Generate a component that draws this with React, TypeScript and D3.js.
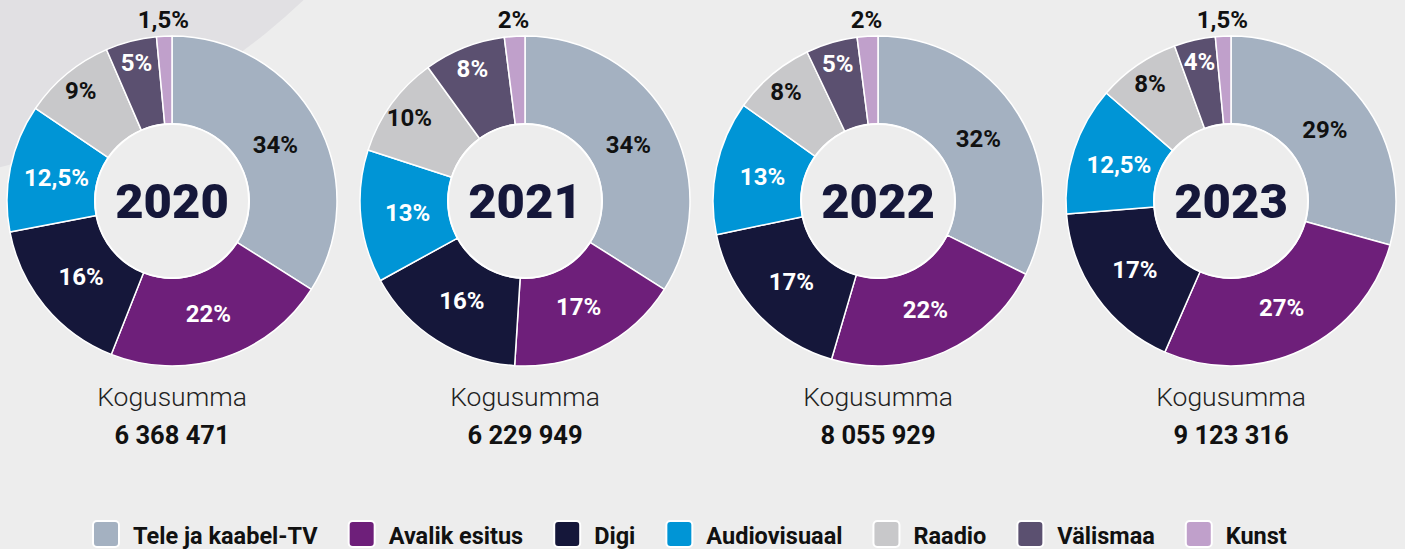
import React, { useEffect, useRef } from "react";
import * as d3 from "d3";

const categories = ["Tele ja kaabel-TV", "Avalik esitus", "Digi", "Audiovisuaal", "Raadio", "Välismaa", "Kunst"];
const colors = ["#a4b1c1", "#6e1f7a", "#15173a", "#0095d6", "#c8c8ca", "#5b5070", "#c0a0cb"];
const labelDark = [true, false, false, false, true, false, true];
const years = ["2020", "2021", "2022", "2023"];
const values2020 = [34, 22, 16, 12.5, 9, 5, 1.5];
const values2021 = [34, 17, 16, 13, 10, 8, 2];
const values2022 = [32, 22, 17, 13, 8, 5, 2];
const values2023 = [29, 27, 17, 12.5, 8, 4, 1.5];
const totals = ["6 368 471", "6 229 949", "8 055 929", "9 123 316"];
const totalLabel = "Kogusumma";

const W = 1405;
const H = 549;

export default function App() {
  const ref = useRef<SVGSVGElement>(null);
  useEffect(() => {
    const svg = d3.select(ref.current);
    svg.selectAll("*").remove();
    const font = "Roboto, 'Noto Sans', sans-serif";
    svg.append("rect").attr("width", W).attr("height", H).attr("fill", "#ededed");
    svg.append("circle").attr("cx", -172).attr("cy", -504).attr("r", 693).attr("fill", "#e1e0e3");

    const allValues = [values2020, values2021, values2022, values2023];
    const x = d3.scalePoint<string>().domain(years).range([172, 1231]);
    const cy = 201;
    const rOuter = 165;
    const rInner = 77;
    const pie = d3.pie<number>().sort(null).value((d) => d);
    const arc = d3.arc<d3.PieArcDatum<number>>().innerRadius(rInner).outerRadius(rOuter);
    const fmt = (v: number) => String(v).replace(".", ",") + "%";

    years.forEach((yr, yi) => {
      const cx = x(yr)!;
      const g = svg.append("g").attr("transform", `translate(${cx},${cy})`);
      const arcs = pie(allValues[yi]);
      g.selectAll("path.seg")
        .data(arcs)
        .join("path")
        .attr("class", "seg")
        .attr("d", arc as any)
        .attr("fill", (_d, i) => colors[i])
        .attr("stroke", "#ffffff")
        .attr("stroke-width", 1.5)
        .attr("stroke-linejoin", "round");
      g.append("circle").attr("r", rInner).attr("fill", "#ededed").attr("stroke", "#ffffff").attr("stroke-width", 2);
      g.selectAll("text.lab")
        .data(arcs)
        .join("text")
        .attr("class", "lab")
        .attr("transform", (d) => {
          const a = (d.startAngle + d.endAngle) / 2;
          const r = d.data < 3 ? 182 : d.data <= 10 ? 143 : 118;
          return `translate(${r * Math.sin(a)},${-r * Math.cos(a)})`;
        })
        .attr("text-anchor", "middle")
        .attr("dy", "0.36em")
        .attr("font-family", font)
        .attr("font-weight", 700)
        .attr("font-size", 24)
        .attr("fill", (d, i) => (labelDark[i] ? "#111111" : "#ffffff"))
        .text((d) => fmt(d.data));
      g.append("text")
        .attr("text-anchor", "middle")
        .attr("y", 17)
        .attr("font-family", font)
        .attr("font-weight", 900)
        .attr("font-size", 49)
        .attr("fill", "#15173a")
        .text(yr);
      svg.append("text")
        .attr("x", cx)
        .attr("y", 406)
        .attr("text-anchor", "middle")
        .attr("font-family", font)
        .attr("font-weight", 300)
        .attr("font-size", 26.5)
        .attr("fill", "#222222")
        .text(totalLabel);
      svg.append("text")
        .attr("x", cx)
        .attr("y", 444)
        .attr("text-anchor", "middle")
        .attr("font-family", font)
        .attr("font-weight", 700)
        .attr("font-size", 25.5)
        .attr("fill", "#111111")
        .text(totals[yi]);
    });

    // legend
    const lg = svg.append("g");
    let lx = 93;
    categories.forEach((c, i) => {
      lg.append("rect")
        .attr("x", lx)
        .attr("y", 521)
        .attr("width", 26)
        .attr("height", 26)
        .attr("rx", 4)
        .attr("fill", colors[i])
        .attr("stroke", "#ffffff")
        .attr("stroke-width", 2);
      const t = lg.append("text")
        .attr("x", lx + 40)
        .attr("y", 544)
        .attr("font-family", font)
        .attr("font-weight", 700)
        .attr("font-size", 23.5)
        .attr("fill", "#111111")
        .text(c);
      const w = (t.node() as SVGTextElement).getComputedTextLength();
      lx += 40 + w + 31;
    });
  }, []);
  return (
    <svg ref={ref} width={W} height={H} style={{ position: "absolute", left: 0, top: 0, display: "block" }} />
  );
}
